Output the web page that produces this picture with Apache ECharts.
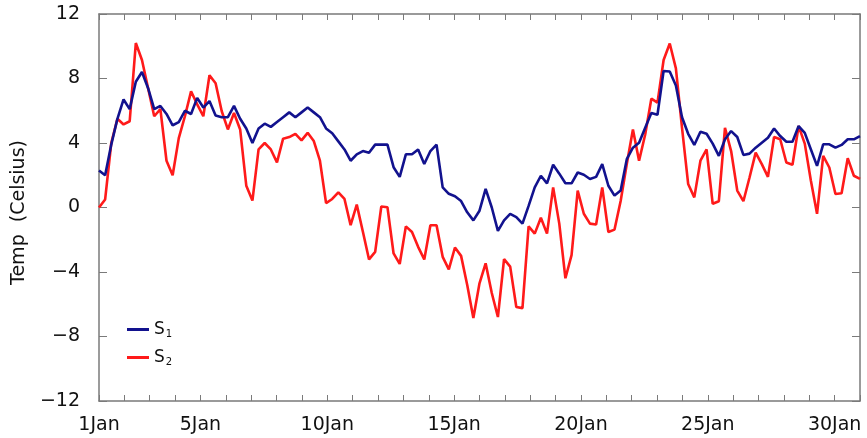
<!DOCTYPE html>
<html>
<head>
<meta charset="utf-8">
<script src="https://cdn.jsdelivr.net/npm/echarts@6/dist/echarts.min.js"></script>
<style>
  html, body { margin: 0; padding: 0; background: #fff; }
  #chart { width: 867px; height: 438px; }
</style>
</head>
<body>
<div id="chart"></div>
<script>
// Temperature series, evenly sampled from 1 Jan 00:00 to 31 Jan 00:00
const S1 = [
  2.3, 2.0, 3.9, 5.5, 6.7, 6.1, 7.8, 8.4, 7.4, 6.1,
  6.3, 5.8, 5.1, 5.3, 6.0, 5.8, 6.8, 6.2, 6.6, 5.7,
  5.6, 5.6, 6.3, 5.5, 4.9, 4.0, 4.9, 5.2, 5.0, 5.3,
  5.6, 5.9, 5.6, 5.9, 6.2, 5.9, 5.6, 4.9, 4.6, 4.1,
  3.6, 2.9, 3.3, 3.5, 3.4, 3.9, 3.9, 3.9, 2.5, 1.9,
  3.3, 3.3, 3.6, 2.7, 3.5, 3.9, 1.25, 0.85, 0.7, 0.4,
  -0.3, -0.8, -0.2, 1.15, 0.0, -1.45, -0.8, -0.4, -0.6, -1.0,
  0.1, 1.25, 1.97, 1.5, 2.65, 2.1, 1.5, 1.5, 2.17, 2.03,
  1.77, 1.9, 2.69, 1.35, 0.74, 1.05, 3.0, 3.71, 4.02, 4.94,
  5.86, 5.75, 8.47, 8.43, 7.57, 5.6, 4.57, 3.88, 4.7, 4.57,
  3.96, 3.2, 4.23, 4.74, 4.37, 3.26, 3.34, 3.71, 4.02, 4.33,
  4.9, 4.43, 4.08, 4.08, 5.05, 4.63, 3.6, 2.58, 3.92, 3.92,
  3.71, 3.88, 4.23, 4.23, 4.43
];
const S2 = [
  0.0, 0.5, 4.0, 5.5, 5.15, 5.35, 10.2, 9.15, 7.4, 5.66,
  6.1, 2.9, 2.0, 4.3, 5.66, 7.2, 6.4, 5.66, 8.2, 7.7,
  5.97, 4.84, 5.86, 4.84, 1.35, 0.43, 3.6, 4.0, 3.6, 2.8,
  4.27, 4.37, 4.57, 4.16, 4.63, 4.12, 2.9, 0.27, 0.53, 0.94,
  0.53, -1.1, 0.18, -1.5, -3.22, -2.75, 0.06, 0.02, -2.85, -3.5,
  -1.17, -1.52, -2.44, -3.22, -1.1, -1.1, -3.06, -3.84, -2.48, -3.0,
  -4.8, -6.85, -4.7, -3.46, -5.3, -6.79, -3.2, -3.67, -6.17, -6.24,
  -1.17, -1.62, -0.63, -1.62, 1.25, -1.0, -4.39, -2.95, 1.05, -0.39,
  -1.0, -1.05, 1.25, -1.52, -1.37, 0.4, 2.7, 4.84, 2.9, 4.53,
  6.75, 6.5, 9.15, 10.17, 8.63, 4.94, 1.46, 0.63, 2.9, 3.6,
  0.23, 0.39, 4.94, 3.5, 1.05, 0.39, 1.86, 3.4, 2.69, 1.9,
  4.37, 4.23, 2.79, 2.65, 5.05, 3.96, 1.66, -0.39, 3.2, 2.48,
  0.84, 0.88, 3.06, 1.97, 1.77
];
const SERIES_NAMES = ['S1', 'S2'];
const SERIES_COLORS = ['#12128e', '#ff1a1a'];

// Day-of-month labels on the time axis (days since 1 Jan)
const DAY_LABELS = { 0: '1Jan', 4: '5Jan', 9: '10Jan', 14: '15Jan', 19: '20Jan', 24: '25Jan', 29: '30Jan' };
const Y_TICKS = [-12, -8, -4, 0, 4, 8, 12];
const SPAN_DAYS = 30;

const FONT = 'DejaVu Sans';

function toPairs(values) {
  const step = SPAN_DAYS / (values.length - 1);
  return values.map((v, i) => [i * step, v]);
}

const axisGray = '#7a7a7a';

const chart = echarts.init(document.getElementById('chart'), null, { renderer: 'canvas' });

const baseX = {
  type: 'value', min: 0, max: SPAN_DAYS, interval: 1,
  axisLine: { show: true, onZero: false, lineStyle: { color: axisGray, width: 1.5 } },
  axisTick: { show: true, inside: true, length: 6, lineStyle: { color: axisGray, width: 1 } },
  splitLine: { show: false }
};
const baseY = {
  type: 'value', min: Y_TICKS[0], max: Y_TICKS[Y_TICKS.length - 1], interval: 4,
  axisLine: { show: true, onZero: false, lineStyle: { color: axisGray, width: 1.5 } },
  axisTick: { show: true, inside: true, length: 8, lineStyle: { color: axisGray, width: 1 } },
  splitLine: { show: false }
};

chart.setOption({
  animation: false,
  backgroundColor: '#ffffff',
  grid: { left: 99, right: 7, top: 14, bottom: 37, containLabel: false },
  legend: {
    orient: 'vertical',
    left: 122, top: 316,
    itemWidth: 22, itemHeight: 3, itemGap: 10,
    icon: 'rect',
    data: SERIES_NAMES,
    formatter: name => '{s|S}{sub|' + name.slice(1) + '}',
    textStyle: {
      fontFamily: FONT, color: '#111',
      rich: {
        s: { fontFamily: FONT, fontSize: 17, color: '#111' },
        sub: { fontFamily: FONT, fontSize: 10, color: '#111', padding: [9, 0, 0, 1] }
      }
    }
  },
  xAxis: [
    Object.assign({}, baseX, {
      position: 'bottom',
      axisLabel: {
        show: true, margin: 15, hideOverlap: false,
        fontFamily: FONT, fontSize: 19, color: '#111',
        showMinLabel: true, showMaxLabel: true,
        formatter: v => DAY_LABELS[Math.round(v)] || ''
      }
    }),
    Object.assign({}, baseX, { position: 'top', axisLabel: { show: false } })
  ],
  yAxis: [
    Object.assign({}, baseY, {
      position: 'left',
      name: 'Temp  (Celsius)',
      nameLocation: 'middle',
      nameGap: 59,
      nameRotate: 90,
      nameTextStyle: { fontFamily: FONT, fontSize: 19, color: '#111', padding: [0, 0, 0, -10] },
      axisLabel: {
        show: true, margin: 19,
        fontFamily: FONT, fontSize: 19, color: '#111',
        formatter: v => String(v).replace('-', '\u2212')
      }
    }),
    Object.assign({}, baseY, { position: 'right', axisLabel: { show: false } })
  ],
  series: [S1, S2].map((vals, k) => ({
    name: SERIES_NAMES[k],
    type: 'line',
    data: toPairs(vals),
    xAxisIndex: 0, yAxisIndex: 0,
    showSymbol: false,
    symbol: 'none',
    lineStyle: { color: SERIES_COLORS[k], width: 2.6 },
    itemStyle: { color: SERIES_COLORS[k] },
    z: 3 - k
  }))
});
</script>
</body>
</html>
